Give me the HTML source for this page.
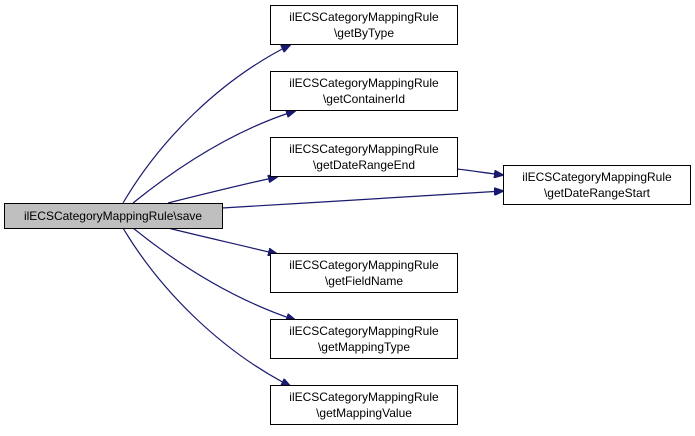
<!DOCTYPE html>
<html><head><style>
body{margin:0;background:#fff;}
svg text{font-family:"Liberation Sans",Arial,sans-serif;font-size:12px;fill:#000;}
</style></head><body>
<svg width="695" height="431" viewBox="0 0 695 431" xmlns="http://www.w3.org/2000/svg">
<defs><marker id="a" markerWidth="10" markerHeight="8" refX="9" refY="4" orient="auto" markerUnits="userSpaceOnUse"><path d="M0,0 L10,4 L0,8 z" fill="#191970" stroke="#191970"/></marker></defs>
<g fill="none" stroke="#191970" stroke-width="1.2">
<path d="M123,203 C160,140 220,80 290,45" marker-end="url(#a)"/>
<path d="M133,203 C180,165 235,130 295,111" marker-end="url(#a)"/>
<path d="M168,203 C200,195 240,185 277,177" marker-end="url(#a)"/>
<path d="M222,208 C320,202 430,196 503,191" marker-end="url(#a)"/>
<path d="M457,169 C475,171 485,173 503,175" marker-end="url(#a)"/>
<path d="M168,228 C200,236 240,245 277,254" marker-end="url(#a)"/>
<path d="M133,228 C180,266 235,300 295,320" marker-end="url(#a)"/>
<path d="M123,228 C160,290 220,350 290,386" marker-end="url(#a)"/>
</g>
<g stroke="#000" stroke-width="1" fill="#fff">
<rect x="4.5" y="203.5" width="218" height="25" fill="#bfbfbf"/>
<rect x="270.5" y="5.5" width="187" height="39"/>
<rect x="270.5" y="71.5" width="187" height="39"/>
<rect x="270.5" y="137.5" width="187" height="39"/>
<rect x="503.5" y="165.5" width="187" height="39"/>
<rect x="270.5" y="253.5" width="187" height="39"/>
<rect x="270.5" y="319.5" width="187" height="39"/>
<rect x="270.5" y="385.5" width="187" height="39"/>
</g>
<g text-anchor="middle">
<text x="113" y="220">ilECSCategoryMappingRule\save</text>
<text x="364" y="21">ilECSCategoryMappingRule</text><text x="364" y="37">\getByType</text>
<text x="364" y="87">ilECSCategoryMappingRule</text><text x="364" y="103">\getContainerId</text>
<text x="364" y="153">ilECSCategoryMappingRule</text><text x="364" y="169">\getDateRangeEnd</text>
<text x="597" y="181">ilECSCategoryMappingRule</text><text x="597" y="197">\getDateRangeStart</text>
<text x="364" y="269">ilECSCategoryMappingRule</text><text x="364" y="285">\getFieldName</text>
<text x="364" y="335">ilECSCategoryMappingRule</text><text x="364" y="351">\getMappingType</text>
<text x="364" y="401">ilECSCategoryMappingRule</text><text x="364" y="417">\getMappingValue</text>
</g>
</svg>
</body></html>
